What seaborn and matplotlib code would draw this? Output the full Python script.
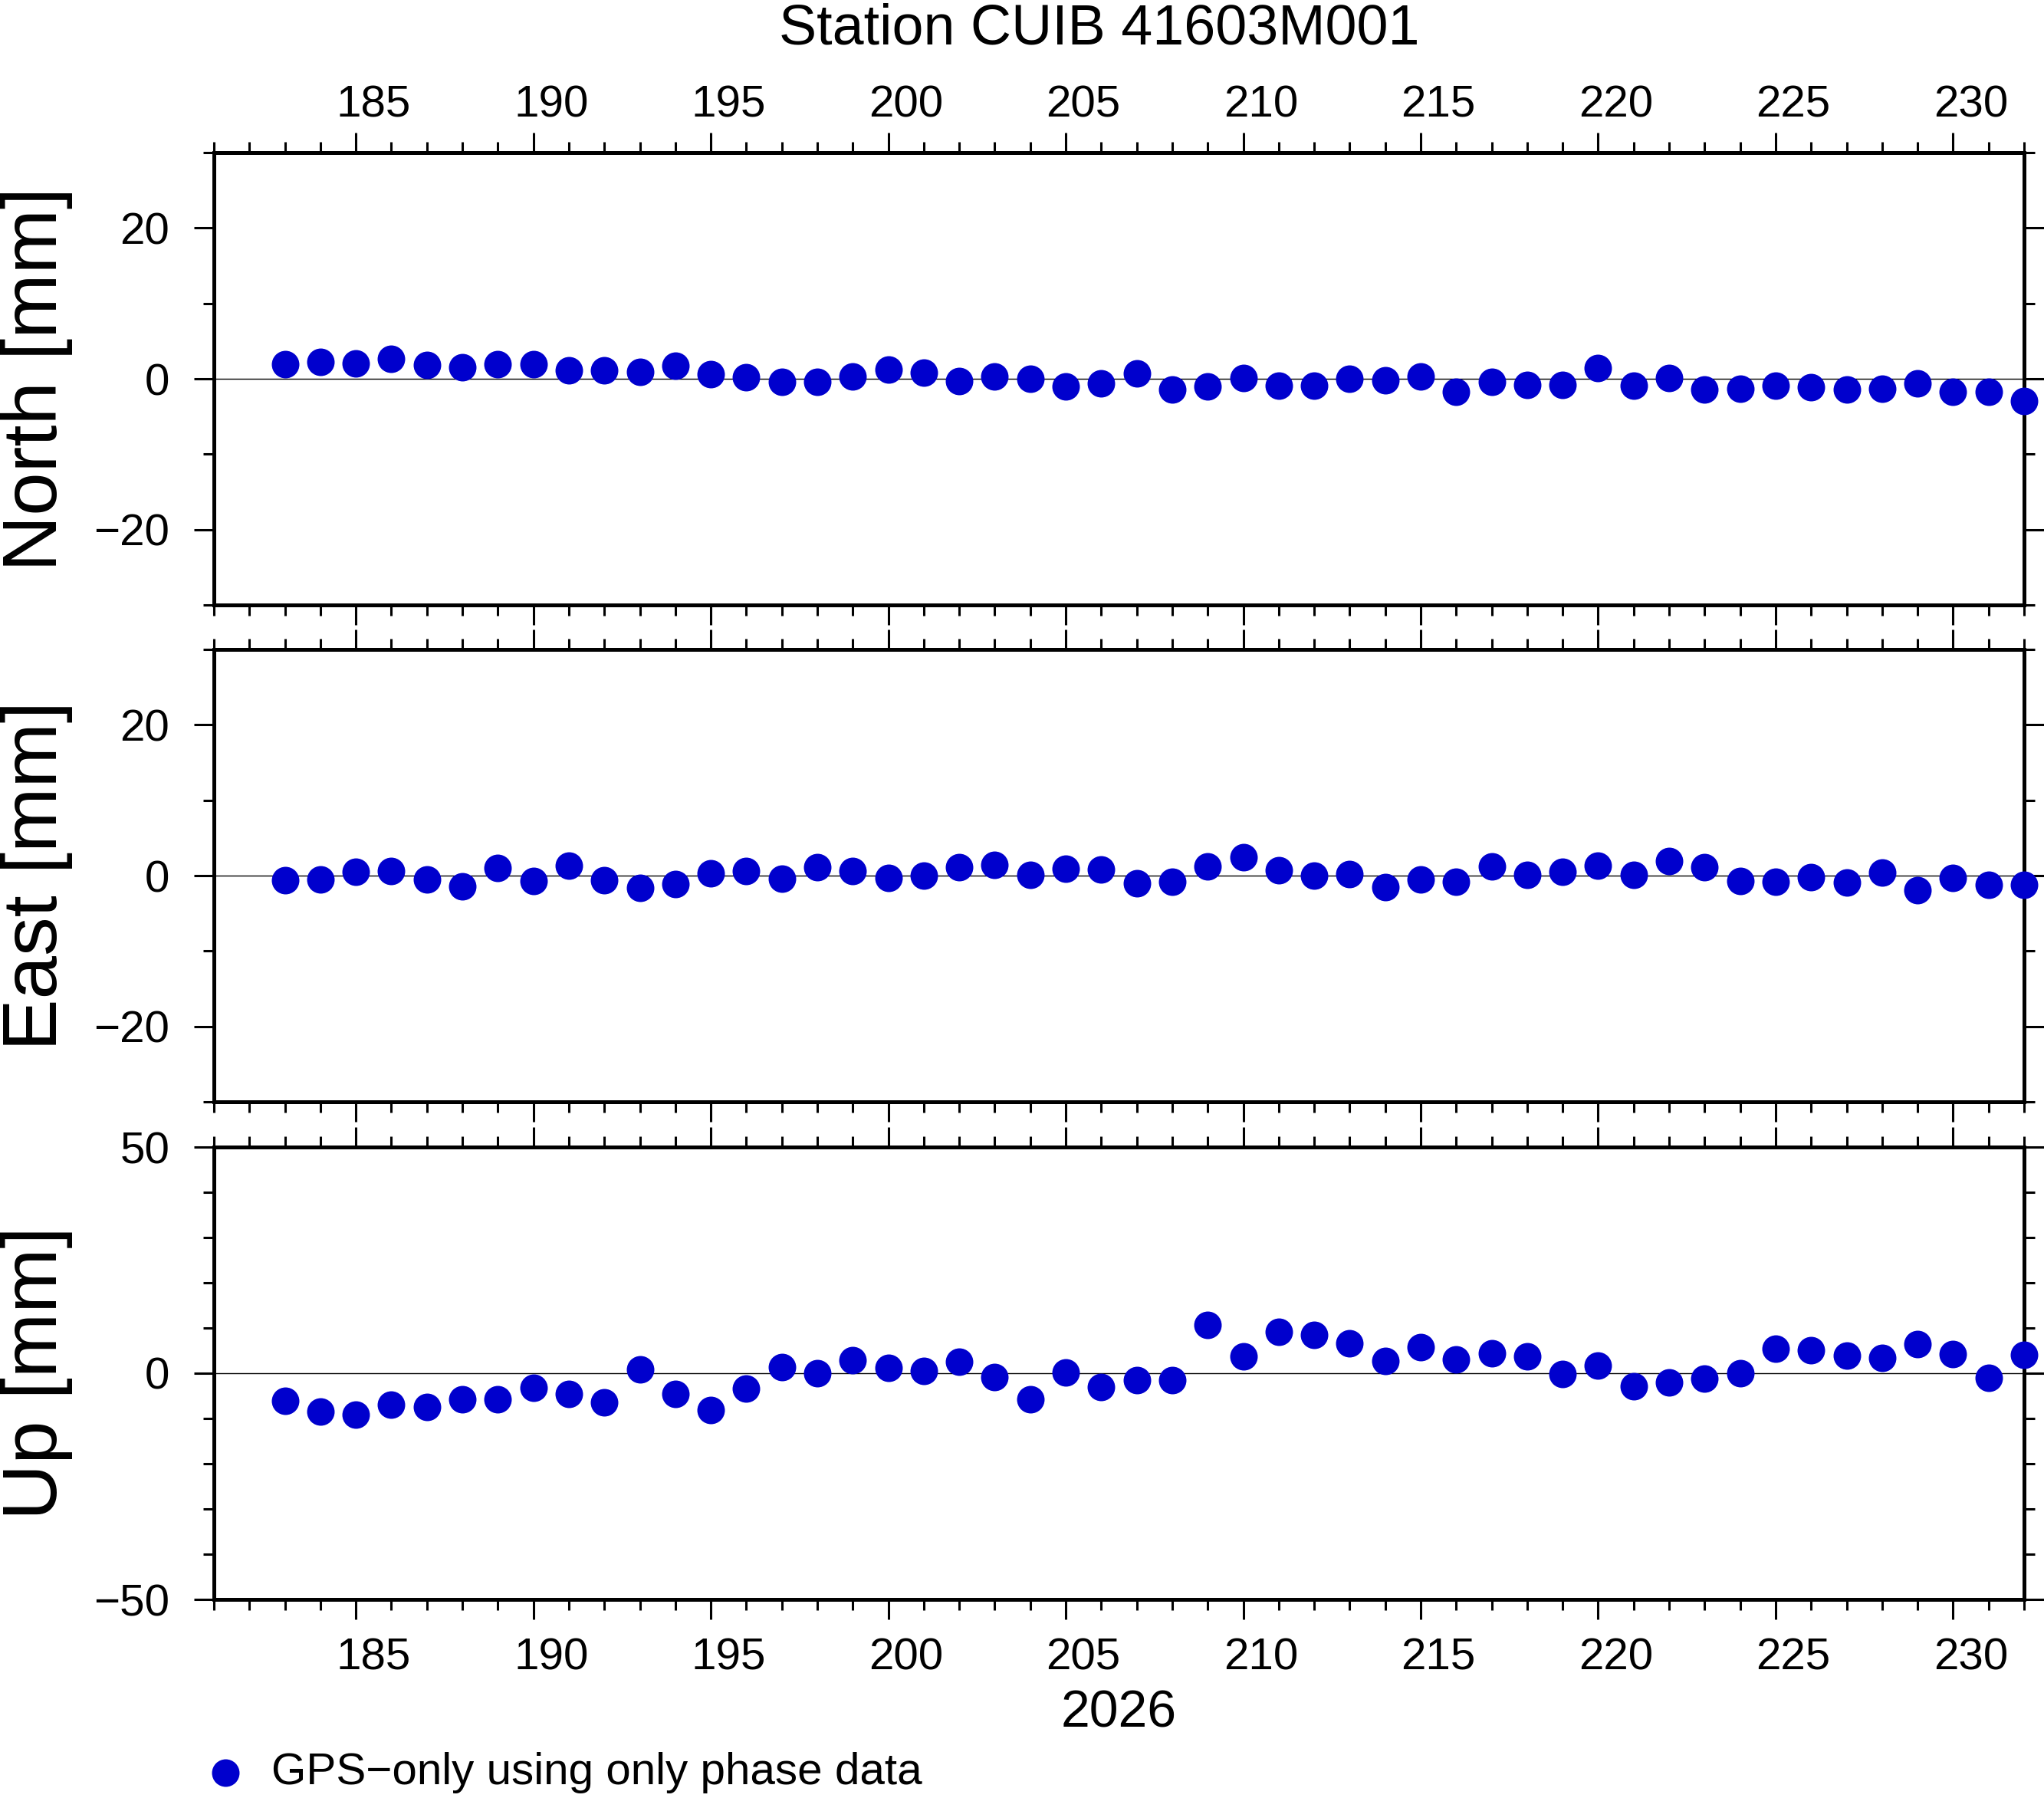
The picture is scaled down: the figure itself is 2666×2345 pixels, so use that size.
import matplotlib
matplotlib.use("Agg")
import matplotlib.pyplot as plt
import seaborn as sns
from matplotlib.ticker import MultipleLocator, FixedLocator

# day of year 2026, one solution per day
days = list(range(183, 233))

north = [1.9, 2.2, 2.0, 2.6, 1.8, 1.5, 1.9, 1.9, 1.1, 1.1,
         0.9, 1.7, 0.6, 0.2, -0.4, -0.4, 0.3, 1.2, 0.8, -0.3,
         0.3, 0.0, -1.0, -0.6, 0.7, -1.4, -1.0, 0.1, -0.9, -0.9,
         0.0, -0.2, 0.3, -1.7, -0.4, -0.8, -0.8, 1.4, -0.9, 0.1,
         -1.4, -1.3, -0.9, -1.1, -1.4, -1.3, -0.6, -1.7, -1.7, -2.9]

east = [-0.6, -0.5, 0.5, 0.6, -0.5, -1.4, 1.0, -0.7, 1.3, -0.6,
        -1.6, -1.1, 0.3, 0.6, -0.4, 1.1, 0.6, -0.3, 0.0, 1.1,
        1.4, 0.1, 0.9, 0.8, -1.0, -0.8, 1.2, 2.4, 0.7, 0.0,
        0.2, -1.5, -0.5, -0.8, 1.2, 0.1, 0.5, 1.3, 0.1, 1.9,
        1.1, -0.7, -0.8, -0.2, -0.9, 0.4, -1.9, -0.3, -1.2, -1.2]

up = [-6.1, -8.5, -9.2, -6.9, -7.5, -5.8, -5.8, -3.2, -4.6, -6.4,
      0.9, -4.6, -8.1, -3.4, 1.4, 0.0, 2.8, 1.2, 0.5, 2.5,
      -0.9, -5.8, 0.2, -3.0, -1.5, -1.5, 10.6, 3.7, 9.2, 8.5,
      6.6, 2.7, 5.8, 3.1, 4.4, 3.7, -0.2, 1.7, -2.9, -2.0,
      -1.2, 0.0, 5.4, 5.1, 3.9, 3.4, 6.4, 4.2, -1.0, 4.1]

label_days = list(range(185, 231, 5))
panel_names = ["North [mm]", "East [mm]", "Up [mm]"]
panel_lims = [30, 30, 50]
panel_major = [20, 20, 50]

BLUE = "#0000cd"


def main():
    sns.set_style("ticks")
    plt.rcParams["font.family"] = ["Liberation Sans", "DejaVu Sans"]
    plt.rcParams.update({
        "axes.linewidth": 3.6,
        "text.color": "black",
        "axes.labelcolor": "black",
        "axes.edgecolor": "black",
        "xtick.color": "black",
        "ytick.color": "black",
    })

    fig = plt.figure(figsize=(26.66, 23.45), dpi=100)

    left, width = 279 / 2666, 2361 / 2666
    tops = [199, 847, 1496]
    h = 590

    series = [north, east, up]
    axes = []
    for i, vals in enumerate(series):
        y0 = 1 - (tops[i] + h) / 2345
        ax = fig.add_axes([left, y0, width, h / 2345])
        ax.axhline(0, color="black", lw=1.0, zorder=1)
        sns.scatterplot(x=days, y=vals, ax=ax, color=BLUE, s=670,
                        linewidth=0, zorder=3, clip_on=False,
                        label="GPS\u2212only using only phase data" if i == 2 else None)
        lim = panel_lims[i]
        ax.set_xlim(181, 232)
        ax.set_ylim(-lim, lim)
        ax.xaxis.set_major_locator(MultipleLocator(5))
        ax.xaxis.set_minor_locator(MultipleLocator(1))
        ax.yaxis.set_major_locator(MultipleLocator(panel_major[i]))
        ax.yaxis.set_minor_locator(MultipleLocator(10))
        ax.tick_params(which="major", length=18.7, width=2.2, direction="out")
        ax.tick_params(which="minor", length=10, width=2.2, direction="out")
        ax.tick_params(which="both", top=True, right=True, bottom=True, left=True,
                       labelbottom=False, labeltop=False)
        ax.tick_params(axis="y", labelsize=42, pad=23)
        ax.set_ylabel(panel_names[i], fontsize=73)
        ax.yaxis.set_label_coords(-0.078, 0.5)
        ax.set_xlabel("")
        for sp in ax.spines.values():
            sp.set_linewidth(3.6)
            sp.set_zorder(2.5)
        axes.append(ax)

    # day labels sit in the middle of each day interval
    top_sec = axes[0].secondary_xaxis("top", functions=(lambda d: d - 0.5, lambda d: d + 0.5))
    top_sec.xaxis.set_major_locator(FixedLocator(label_days))
    top_sec.tick_params(length=0, labelsize=42, pad=25)
    for sp in top_sec.spines.values():
        sp.set_visible(False)

    bot_sec = axes[2].secondary_xaxis("bottom", functions=(lambda d: d - 0.5, lambda d: d + 0.5))
    bot_sec.xaxis.set_major_locator(FixedLocator(label_days))
    bot_sec.tick_params(length=0, labelsize=42, pad=36)
    bot_sec.set_xlabel("2026", fontsize=49, labelpad=9)
    for sp in bot_sec.spines.values():
        sp.set_visible(False)

    fig.text(1434 / 2666, 1 - 57 / 2345, "Station CUIB 41603M001",
             fontsize=53, ha="center", va="baseline")

    axes[2].legend(loc="center left", bbox_to_anchor=(271 / 2666, 1 - 2312 / 2345),
                   bbox_transform=fig.transFigure, frameon=False, fontsize=42,
                   handlelength=0.8, handletextpad=0.62, borderpad=0, borderaxespad=0)

    fig.savefig("out.png", dpi=100)
    plt.close(fig)


if __name__ == "__main__":
    main()
